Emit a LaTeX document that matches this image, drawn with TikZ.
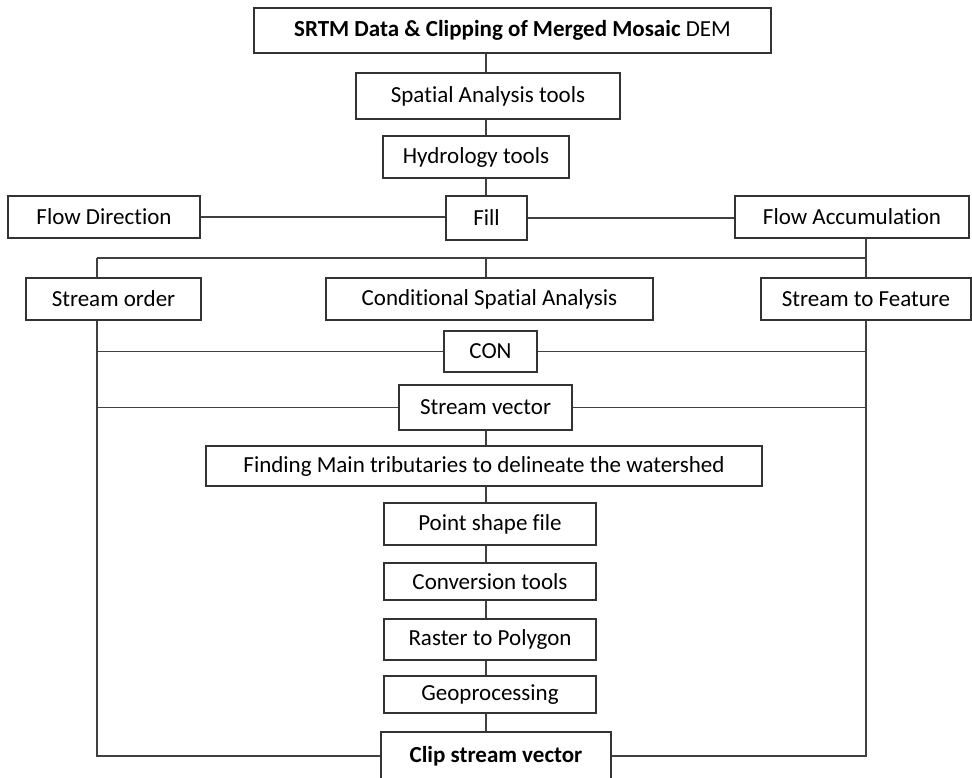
\documentclass[tikz,border=0pt]{standalone}
\usepackage{fontspec}
\setmainfont[Ligatures=NoCommon]{Carlito}
\begin{document}
\begin{tikzpicture}[x=1pt, y=-1pt,
	box/.style = {draw=black!80, line width=1.4pt, fill=white, inner sep=0pt, font=\fontsize{23}{27}\selectfont},
	link/.style = {draw=black!75, line width=1.5pt}]
	
	\useasboundingbox (0,0) rectangle (972,778);
	
	\coordinate (mid) at (486,0);
	\coordinate (left) at (97,0);
	\coordinate (right) at (866,0);
	\coordinate (split) at (0,258);
	
	% main column, top part
	\node[box, minimum width=517, minimum height=45] (srtm) at (512.5,30.5) {\textbf{SRTM Data \& Clipping of Merged Mosaic} DEM};
	\node[box, minimum width=264, minimum height=46] (spatial) at (488,96) {Spatial Analysis tools};
	\node[box, minimum width=186, minimum height=42] (hydro) at (476,157) {Hydrology tools};
	\node[box, minimum width=81, minimum height=44] (fill) at (486.5,218) {Fill};
	
	\node[box, minimum width=192, minimum height=42] (flowdir) at (104,217) {Flow Direction};
	\node[box, minimum width=234, minimum height=42] (flowacc) at (852,217) {Flow Accumulation};
	
	\node[box, minimum width=175, minimum height=42] (order) at (113.5,299) {Stream order};
	\node[box, minimum width=327, minimum height=42] (cond) at (489.5,299) {Conditional Spatial Analysis};
	\node[box, minimum width=210, minimum height=42] (feature) at (866,299) {Stream to Feature};
	
	\node[box, minimum width=93, minimum height=41] (con) at (490.5,351.5) {CON};
	\node[box, minimum width=173, minimum height=45] (vector) at (485.5,407.5) {Stream vector};
	\node[box, minimum width=556, minimum height=40] (finding) at (484,466) {Finding Main tributaries to delineate the watershed};
	
	% main column, bottom part
	\node[box, minimum width=212, minimum height=42] (point) at (490,524) {Point shape file};
	\node[box, minimum width=212, minimum height=37] (conv) at (490,581.5) {Conversion tools};
	\node[box, minimum width=212, minimum height=41] (raster) at (490,639.5) {Raster to Polygon};
	\node[box, minimum width=212, minimum height=37] (geo) at (490,694.5) {Geoprocessing};
	\node[box, minimum width=230, minimum height=48] (clip) at (496,756) {\textbf{Clip stream vector}};
	
	\foreach \a/\b in {srtm/spatial, spatial/hydro, hydro/fill, vector/finding, finding/point, point/conv, conv/raster, raster/geo, geo/clip}
		\draw[link] (\a.south -| mid) -- (\b.north -| mid);
	
	\draw[link] (flowdir.east) -- (flowdir.east -| fill.west);
	\draw[link] (fill.east) -- (fill.east -| flowacc.west);
	
	\draw[link] (flowacc.south -| right) -- (feature.north -| right);
	\draw[link] (split -| left) -- (split -| right);
	\draw[link] (split -| left) -- (order.north -| left);
	\draw[link] (split -| mid) -- (cond.north -| mid);
	
	\draw[link] (order.south -| left) |- (clip.west);
	\draw[link] (feature.south -| right) |- (clip.east);
	\draw[link] (con.west) -- (con.west -| left);
	\draw[link] (con.east) -- (con.east -| right);
	\draw[link] (vector.west) -- (vector.west -| left);
	\draw[link] (vector.east) -- (vector.east -| right);
	
\end{tikzpicture}
\end{document}
